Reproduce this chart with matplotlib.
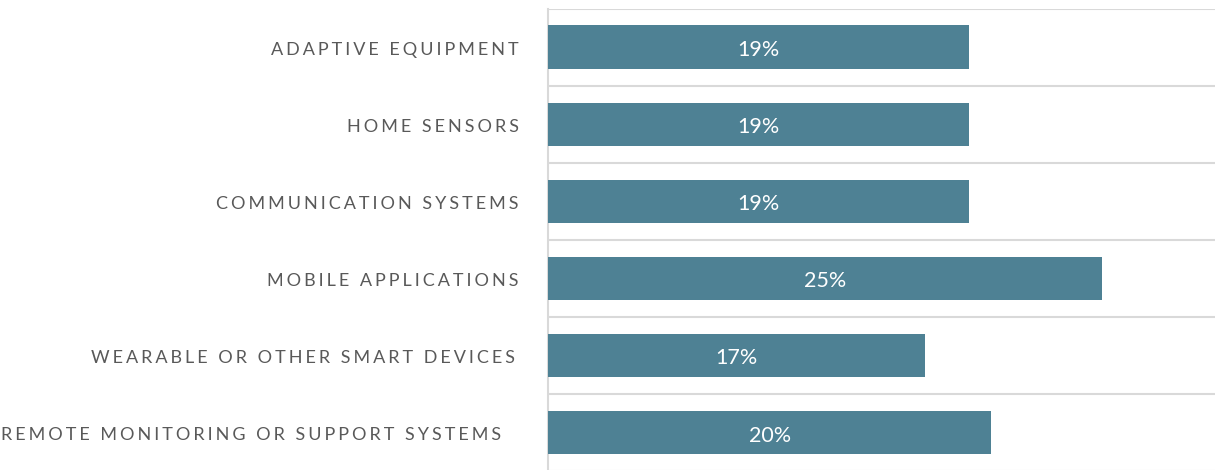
import matplotlib
matplotlib.use("Agg")
import matplotlib.pyplot as plt
import matplotlib.transforms as mtransforms
import numpy as np

categories = [
    "ADAPTIVE EQUIPMENT",
    "HOME SENSORS",
    "COMMUNICATION SYSTEMS",
    "MOBILE APPLICATIONS",
    "WEARABLE OR OTHER SMART DEVICES",
    "REMOTE MONITORING OR SUPPORT SYSTEMS",
]
values = [0.19, 0.19, 0.19, 0.25, 0.17, 0.20]
value_labels = ["19%", "19%", "19%", "25%", "17%", "20%"]

plt.rcParams['font.family'] = ['Lato', 'DejaVu Sans']

SP = "\u2006"

def spaced(s):
    return (SP + " " + SP).join(SP.join(w) for w in s.split(" "))

W, H = 1215, 470
fig = plt.figure(figsize=(W / 100, H / 100), dpi=100)
ax = fig.add_axes([548 / W, (470 - 471) / H, (1215 - 548) / W, (471 - 8.5) / H])

n = len(categories)
y = np.arange(n)
bar_color = "#4E8194"
ax.barh(y, values, height=0.56, color=bar_color, zorder=3)

vtr = mtransforms.offset_copy(ax.transData, fig=fig, x=0, y=-2.2, units="points")
for yi, v, lab in zip(y, values, value_labels):
    ax.text(v / 2, yi, lab, transform=vtr, ha="center", va="center",
            color="white", fontsize=15.5, zorder=4)

ax.set_ylim(n - 0.5, -0.5)
ax.set_xlim(0, 0.301)
ax.set_yticks(y)
ax.set_yticklabels([])
ax.set_yticks(np.arange(n + 1) - 0.5, minor=True)
ax.tick_params(axis="y", which="both", length=0)
ax.set_xticks([])
ax.grid(axis="y", which="minor", color="#d9d9d9", linewidth=1.5, zorder=1)
ax.grid(axis="y", which="major", visible=False)

# category labels, right-aligned left of the axis (label end gap in points)
label_gap = [21, 21, 21, 21, 24, 34]
ytrans = ax.get_yaxis_transform()
for yi, cat, gap in zip(y, categories, label_gap):
    tr = mtransforms.offset_copy(ytrans, fig=fig, x=-gap, y=-1.8, units="points")
    ax.text(0, yi, spaced(cat), transform=tr, ha="right", va="center",
            fontsize=13, color="#595959")

for s in ["top", "right", "bottom"]:
    ax.spines[s].set_visible(False)
ax.spines["left"].set_color("#d9d9d9")
ax.spines["left"].set_linewidth(1.5)

fig.savefig("out.png", dpi=100, facecolor="white")
